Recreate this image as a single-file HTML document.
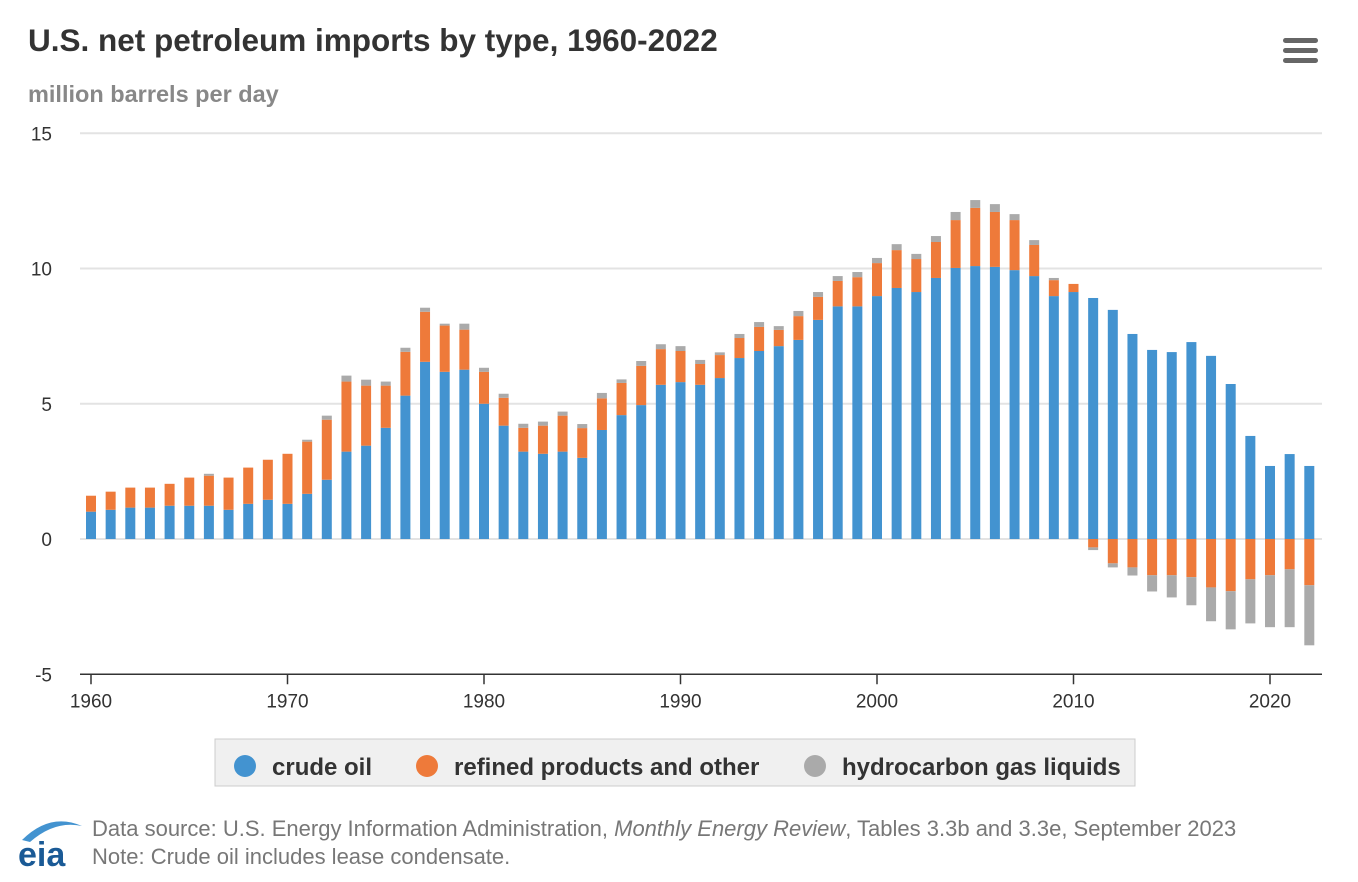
<!DOCTYPE html>
<html><head><meta charset="utf-8"><style>
body{margin:0;background:#fff;font-family:"Liberation Sans",Arial,sans-serif;}
#wrap{position:relative;width:1358px;height:882px;overflow:hidden;}
</style></head><body>
<div id="wrap">
<svg id="chart" width="1358" height="882">
<text x="28" y="51" font-size="31.5" font-weight="bold" fill="#333">U.S. net petroleum imports by type, 1960-2022</text>
<text x="28" y="102" font-size="23.5" font-weight="bold" fill="#888">million barrels per day</text>
<g>
<rect x="1283" y="38" width="35" height="5" rx="2.5" fill="#666"/><rect x="1283" y="48" width="35" height="5" rx="2.5" fill="#666"/><rect x="1283" y="58" width="35" height="5" rx="2.5" fill="#666"/>
</g>
<g id="grid"></g><g id="bars"></g><g id="axes"></g>
<g>
<rect x="215" y="739" width="920" height="47" fill="#f0f0f0" stroke="#ccc"/>
<g><circle cx="245" cy="766" r="11" fill="#4393d0"/><text x="272" y="775" font-size="24" font-weight="bold" fill="#333">crude oil</text></g>
<g><circle cx="427" cy="766" r="11" fill="#ee7a3a"/><text x="454" y="775" font-size="24" font-weight="bold" fill="#333">refined products and other</text></g>
<g><circle cx="815" cy="766" r="11" fill="#aaa"/><text x="842" y="775" font-size="24" font-weight="bold" fill="#333">hydrocarbon gas liquids</text></g>
</g>
<g>
<path d="M22 840 Q50 812 82 826 Q55 820 30 842 Z" fill="#4393d0"/>
<text x="18" y="866" font-size="34" font-weight="bold" fill="#1a5a96">eia</text>
</g>
<text x="92" y="836" font-size="22" fill="#777">Data source: U.S. Energy Information Administration, <tspan font-style="italic">Monthly Energy Review</tspan>, Tables 3.3b and 3.3e, September 2023</text>
<text x="92" y="864" font-size="22" fill="#777">Note: Crude oil includes lease condensate.</text>
</svg>
</div>
<script>
const years=[];for(let y=1960;y<=2022;y++)years.push(y);
const crude=[1.01,1.08,1.16,1.16,1.23,1.23,1.23,1.08,1.30,1.45,1.30,1.67,2.19,3.23,3.45,4.11,5.30,6.55,6.18,6.26,5.00,4.19,3.23,3.15,3.23,3.0,4.03,4.58,4.95,5.7,5.8,5.7,5.95,6.69,6.95,7.13,7.36,8.1,8.6,8.6,8.98,9.28,9.13,9.65,10.02,10.09,10.06,9.94,9.72,8.98,9.13,8.91,8.47,7.58,6.99,6.91,7.28,6.77,5.73,3.81,2.70,3.14,2.70];
const refined=[0.59,0.67,0.74,0.74,0.81,1.04,1.11,1.19,1.34,1.48,1.85,1.93,2.22,2.59,2.22,1.56,1.62,1.85,1.71,1.48,1.18,1.03,0.88,1.04,1.33,1.1,1.17,1.19,1.45,1.32,1.15,0.77,0.85,0.74,0.89,0.6,0.88,0.85,0.94,1.08,1.22,1.4,1.22,1.33,1.77,2.15,2.03,1.85,1.15,0.59,0.3,-0.31,-0.9,-1.05,-1.34,-1.34,-1.41,-1.79,-1.93,-1.49,-1.34,-1.12,-1.71];
const hgl=[0,0,0,0,0,0,0.07,0,0,0,0,0.07,0.15,0.22,0.22,0.15,0.15,0.15,0.07,0.22,0.15,0.15,0.15,0.15,0.15,0.15,0.2,0.13,0.18,0.18,0.18,0.15,0.1,0.15,0.18,0.14,0.19,0.18,0.18,0.19,0.19,0.22,0.19,0.22,0.3,0.29,0.29,0.22,0.18,0.08,0,-0.1,-0.15,-0.3,-0.6,-0.82,-1.04,-1.25,-1.41,-1.63,-1.92,-2.14,-2.22];
const yTicks=[-5,0,5,10,15];
const xTicks=[1960,1970,1980,1990,2000,2010,2020];
const NS="http://www.w3.org/2000/svg";
const X=y=>91+(y-1960)*19.65, Y=v=>539-v*27.05;
function mk(p,t,a){const e=document.createElementNS(NS,t);for(const k in a)e.setAttribute(k,a[k]);p.appendChild(e);return e;}
const g=document.getElementById('grid'),b=document.getElementById('bars'),ax=document.getElementById('axes');
yTicks.forEach(t=>{
 if(t>-5){const l=mk(g,'line',{x1:80,x2:1322,y1:Y(t),y2:Y(t),stroke:'#e3e3e3','stroke-width':2});
 
 }
 const tx=mk(ax,'text',{x:52,y:Y(t)+7,'font-size':19,fill:'#333','text-anchor':'end'});tx.textContent=t;
 
 
});
const al=mk(ax,'line',{x1:80,x2:1322,y1:Y(-5),y2:Y(-5),stroke:'#333','stroke-width':1.5});


xTicks.forEach(t=>{
 mk(ax,'line',{x1:X(t),x2:X(t),y1:Y(-5),y2:Y(-5)+10,stroke:'#333','stroke-width':1.5});
 const tx=mk(ax,'text',{x:X(t),y:Y(-5)+33,'font-size':19,fill:'#333','text-anchor':'middle'});tx.textContent=t;
 
 
});
function seg(x,v0,v1,c,n){const top=Math.min(Y(v0),Y(v1)),h=Math.abs(Y(v0)-Y(v1));if(h<=0)return;
 const r=mk(b,'rect',{x:x-5,y:top,width:10,height:h,fill:c});
 
 }
years.forEach((yr,i)=>{
 const x=X(yr);let pos=0,neg=0;
 [[crude[i],'#4393d0','bar-crude-'+yr],[refined[i],'#ee7a3a','bar-refined-'+yr],[hgl[i],'#aaa','bar-hgl-'+yr]].forEach(([v,c,n])=>{
  if(v>=0){seg(x,pos,pos+v,c,n);pos+=v;}else{seg(x,neg,neg+v,c,n);neg+=v;}
 });
});
</script>
</body></html>
